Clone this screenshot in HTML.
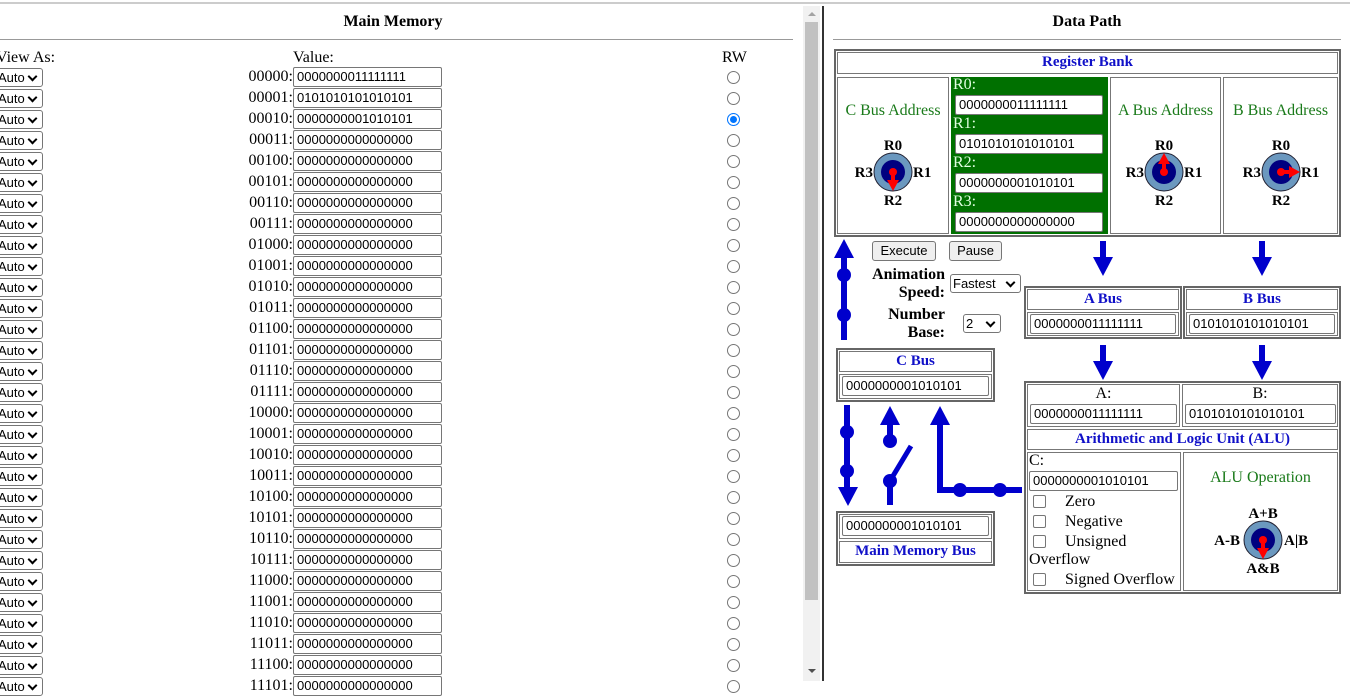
<!DOCTYPE html>
<html><head><meta charset="utf-8"><style>
*{box-sizing:border-box}
body{margin:0;width:1350px;height:681px;overflow:hidden;background:#fff;font-family:"Liberation Serif",serif;font-size:16px;position:relative}
.a{position:absolute}
.inp{position:absolute;height:20px;border:1px solid #767676;border-radius:2px;background:#fff;font-family:"Liberation Sans",sans-serif;font-size:13px;line-height:18px;padding-left:3px;color:#000}
.sel{position:absolute;height:19px;border:1px solid #767676;border-radius:3px;background:#fff;font-family:"Liberation Sans",sans-serif;font-size:13px;line-height:17px;padding-left:2px}
.sel:after{content:"";position:absolute;right:6px;top:4px;width:5px;height:5px;border-right:2px solid #000;border-bottom:2px solid #000;transform:rotate(45deg)}
.rad{position:absolute;width:13px;height:13px;border:1px solid #767676;border-radius:50%;background:#fff}
.box{position:absolute;border:2px solid #666;}
.cell{position:absolute;border:1px solid #777}
.hd{position:absolute;color:#1010c8;font-weight:bold;text-align:center;font-size:15px;line-height:19px}
.g{color:#1a7a1a}
.b{font-weight:bold}
.btn{position:absolute;height:20px;border:1px solid #767676;border-radius:3px;background:#efefef;font-family:"Liberation Sans",sans-serif;font-size:13px;text-align:center;line-height:18px}
.cb{position:absolute;width:13px;height:13px;border:1px solid #767676;border-radius:2px;background:#fff}
</style></head><body>
<div class="a" style="left:0;top:0;width:1350px;height:4px;border-bottom:2px solid #ccc;background:#fff"></div>
<div class="a b" style="left:0;top:13px;width:786px;text-align:center">Main Memory</div>
<div class="a" style="left:0;top:39px;width:793px;height:1px;background:#999"></div>
<div class="a" style="left:-4px;top:49px">View As:</div>
<div class="a" style="left:293px;top:49px">Value:</div>
<div class="a" style="left:722px;top:49px">RW</div>
<div id="rows"></div>
<div class="a" style="left:803px;top:6px;width:17px;height:675px;background:#f1f1f1"></div>
<div class="a" style="left:805px;top:22px;width:13px;height:578px;background:#c1c1c1"></div>
<div class="a" style="left:808px;top:12px;width:0;height:0;border-left:4px solid transparent;border-right:4px solid transparent;border-bottom:4px solid #a3a3a3"></div>
<div class="a" style="left:808px;top:669px;width:0;height:0;border-left:4px solid transparent;border-right:4px solid transparent;border-top:4px solid #505050"></div>
<div class="a" style="left:822px;top:6px;width:2px;height:675px;background:#333"></div>

<div class="a b" style="left:833px;top:13px;width:508px;text-align:center">Data Path</div>
<div class="a" style="left:833px;top:39px;width:508px;height:1px;background:#999"></div>

<div class="box" style="left:834px;top:49px;width:507px;height:188px"></div>
<div class="cell" style="left:837px;top:52px;width:501px;height:22px"></div>
<div class="hd" style="left:837px;top:53px;width:501px">Register Bank</div>
<div class="cell" style="left:837px;top:77px;width:112px;height:157px"></div>
<div class="a" style="left:951px;top:77px;width:157px;height:157px;background:#007000"></div>
<div class="cell" style="left:1110px;top:77px;width:111px;height:157px"></div>
<div class="cell" style="left:1223px;top:77px;width:115px;height:157px"></div>
<div class="a g" style="left:837px;top:102px;width:112px;text-align:center">C Bus Address</div>
<div class="a g" style="left:1110px;top:102px;width:111px;text-align:center">A Bus Address</div>
<div class="a g" style="left:1223px;top:102px;width:115px;text-align:center">B Bus Address</div>
<div class="a" style="left:953px;top:76px;color:#e0ffe0">R0:</div>
<div class="inp" style="left:955px;top:95px;width:148px">0000000011111111</div>
<div class="a" style="left:953px;top:115px;color:#e0ffe0">R1:</div>
<div class="inp" style="left:955px;top:134px;width:148px">0101010101010101</div>
<div class="a" style="left:953px;top:154px;color:#e0ffe0">R2:</div>
<div class="inp" style="left:955px;top:173px;width:148px">0000000001010101</div>
<div class="a" style="left:953px;top:193px;color:#e0ffe0">R3:</div>
<div class="inp" style="left:955px;top:212px;width:148px">0000000000000000</div>

<div class="btn" style="left:872px;top:241px;width:64px">Execute</div>
<div class="btn" style="left:949px;top:241px;width:53px">Pause</div>
<div class="a b" style="left:840px;top:266px;width:105px;text-align:right;line-height:18px">Animation<br>Speed:</div>
<div class="sel" style="left:950px;top:274px;width:71px">Fastest</div>
<div class="a b" style="left:840px;top:306px;width:105px;text-align:right;line-height:18px">Number<br>Base:</div>
<div class="sel" style="left:963px;top:314px;width:38px">2</div>

<div class="box" style="left:1024px;top:286px;width:158px;height:53px"></div>
<div class="cell" style="left:1027px;top:289px;width:152px;height:21px"></div>
<div class="hd" style="left:1027px;top:290px;width:152px">A Bus</div>
<div class="cell" style="left:1027px;top:312px;width:152px;height:24px"></div>
<div class="inp" style="left:1030px;top:314px;width:146px">0000000011111111</div>
<div class="box" style="left:1183px;top:286px;width:158px;height:53px"></div>
<div class="cell" style="left:1186px;top:289px;width:152px;height:21px"></div>
<div class="hd" style="left:1186px;top:290px;width:152px">B Bus</div>
<div class="cell" style="left:1186px;top:312px;width:152px;height:24px"></div>
<div class="inp" style="left:1189px;top:314px;width:146px">0101010101010101</div>

<div class="box" style="left:836px;top:348px;width:159px;height:54px"></div>
<div class="cell" style="left:839px;top:351px;width:153px;height:21px"></div>
<div class="hd" style="left:839px;top:352px;width:153px">C Bus</div>
<div class="cell" style="left:839px;top:374px;width:153px;height:25px"></div>
<div class="inp" style="left:842px;top:376px;width:147px">0000000001010101</div>

<div class="box" style="left:836px;top:511px;width:159px;height:55px"></div>
<div class="cell" style="left:839px;top:514px;width:153px;height:25px"></div>
<div class="inp" style="left:842px;top:516px;width:147px">0000000001010101</div>
<div class="cell" style="left:839px;top:541px;width:153px;height:22px"></div>
<div class="hd" style="left:839px;top:542px;width:153px">Main Memory Bus</div>

<div class="box" style="left:1024px;top:381px;width:317px;height:213px"></div>
<div class="cell" style="left:1027px;top:384px;width:153px;height:43px"></div>
<div class="cell" style="left:1182px;top:384px;width:156px;height:43px"></div>
<div class="a" style="left:1027px;top:385px;width:153px;text-align:center">A:</div>
<div class="a" style="left:1182px;top:385px;width:156px;text-align:center">B:</div>
<div class="inp" style="left:1030px;top:404px;width:147px">0000000011111111</div>
<div class="inp" style="left:1185px;top:404px;width:151px">0101010101010101</div>
<div class="cell" style="left:1027px;top:429px;width:311px;height:21px"></div>
<div class="hd" style="left:1027px;top:430px;width:311px">Arithmetic and Logic Unit (ALU)</div>
<div class="cell" style="left:1027px;top:452px;width:154px;height:139px"></div>
<div class="cell" style="left:1183px;top:452px;width:155px;height:139px"></div>
<div class="a" style="left:1029px;top:452px">C:</div>
<div class="inp" style="left:1029px;top:471px;width:149px">0000000001010101</div>
<div class="cb" style="left:1033px;top:495px"></div><div class="a" style="left:1065px;top:493px">Zero</div>
<div class="cb" style="left:1033px;top:515px"></div><div class="a" style="left:1065px;top:513px">Negative</div>
<div class="cb" style="left:1033px;top:535px"></div><div class="a" style="left:1065px;top:533px">Unsigned</div>
<div class="a" style="left:1029px;top:551px">Overflow</div>
<div class="cb" style="left:1033px;top:573px"></div><div class="a" style="left:1065px;top:571px">Signed Overflow</div>
<div class="a g" style="left:1183px;top:469px;width:155px;text-align:center">ALU Operation</div>

<svg class="a" style="left:0;top:0" width="1350" height="681" font-family="Liberation Serif,serif" font-weight="bold" font-size="15">
<g fill="#0000cc" stroke="#0000cc">
<rect x="1100" y="241" width="6" height="18" stroke="none"/><polygon points="1093,257 1113,257 1103,276" stroke="none"/>
<rect x="1259" y="241" width="6" height="18" stroke="none"/><polygon points="1252,257 1272,257 1262,276" stroke="none"/>
<rect x="1100" y="345" width="6" height="18" stroke="none"/><polygon points="1093,361 1113,361 1103,380" stroke="none"/>
<rect x="1259" y="345" width="6" height="18" stroke="none"/><polygon points="1252,361 1272,361 1262,380" stroke="none"/>
<polygon points="844,239 834,258 854,258" stroke="none"/><rect x="841" y="256" width="6" height="84" stroke="none"/>
<circle cx="844" cy="275" r="7" stroke="none"/><circle cx="844" cy="315" r="7" stroke="none"/>
<rect x="844" y="405" width="6" height="85" stroke="none"/><polygon points="838,487 858,487 848,506" stroke="none"/>
<circle cx="847" cy="432" r="7" stroke="none"/><circle cx="847" cy="471" r="7" stroke="none"/>
<polygon points="890,406 880,425 900,425" stroke="none"/><rect x="887" y="423" width="6" height="18" stroke="none"/>
<circle cx="890" cy="441" r="7" stroke="none"/>
<line x1="890" y1="481" x2="911" y2="446" stroke-width="5"/>
<circle cx="890" cy="481" r="7" stroke="none"/><rect x="887" y="481" width="6" height="24" stroke="none"/>
<polygon points="940,406 930,425 950,425" stroke="none"/><rect x="937" y="423" width="6" height="70" stroke="none"/>
<rect x="937" y="487" width="85" height="6" stroke="none"/>
<circle cx="960" cy="490" r="7" stroke="none"/><circle cx="1000" cy="490" r="7" stroke="none"/>
</g>
<g transform="translate(893,172)">
<circle r="19" fill="#6b98bf" stroke="#223"/><circle r="12" fill="#000080"/><circle r="4" fill="#f00"/>
<rect x="-2" y="0" width="4" height="10" fill="#f00"/><polygon points="-6,8 6,8 0,19" fill="#f00"/>
<text x="0" y="-22" text-anchor="middle">R0</text><text x="0" y="33" text-anchor="middle">R2</text>
<text x="-20" y="5" text-anchor="end">R3</text><text x="20" y="5">R1</text></g>
<g transform="translate(1164,172)">
<circle r="19" fill="#6b98bf" stroke="#223"/><circle r="12" fill="#000080"/><circle r="4" fill="#f00"/>
<rect x="-2" y="-10" width="4" height="10" fill="#f00"/><polygon points="-6,-8 6,-8 0,-19" fill="#f00"/>
<text x="0" y="-22" text-anchor="middle">R0</text><text x="0" y="33" text-anchor="middle">R2</text>
<text x="-20" y="5" text-anchor="end">R3</text><text x="20" y="5">R1</text></g>
<g transform="translate(1281,172)">
<circle r="19" fill="#6b98bf" stroke="#223"/><circle r="12" fill="#000080"/><circle r="4" fill="#f00"/>
<rect x="0" y="-2" width="10" height="4" fill="#f00"/><polygon points="8,-6 8,6 19,0" fill="#f00"/>
<text x="0" y="-22" text-anchor="middle">R0</text><text x="0" y="33" text-anchor="middle">R2</text>
<text x="-20" y="5" text-anchor="end">R3</text><text x="20" y="5">R1</text></g>
<g transform="translate(1263,540)">
<circle r="19" fill="#6b98bf" stroke="#223"/><circle r="12" fill="#000080"/><circle r="4" fill="#f00"/>
<rect x="-2" y="0" width="4" height="10" fill="#f00"/><polygon points="-6,8 6,8 0,19" fill="#f00"/>
<text x="0" y="-22" text-anchor="middle">A+B</text><text x="0" y="33" text-anchor="middle">A&amp;B</text>
<text x="-23" y="5" text-anchor="end">A-B</text><text x="21" y="5">A|B</text></g>
</svg>
<script>
var v=["0000000011111111","0101010101010101","0000000001010101"];var h="";
for(var i=0;i<30;i++){var y=67+21*i;var a=i.toString(2);while(a.length<5)a="0"+a;
var val=v[i]||"0000000000000000";
h+='<div class="sel" style="left:-5px;top:'+(y+1)+'px;width:48px">Auto</div>';
h+='<div class="a" style="left:200px;width:93px;text-align:right;line-height:20px;top:'+y+'px">'+a+':</div>';
h+='<div class="inp" style="left:293px;top:'+y+'px;width:149px">'+val+'</div>';
h+='<div class="rad" style="left:727px;top:'+(y+4)+'px;'+(i==2?'border-color:#0075ff;box-shadow:inset 0 0 0 2px #fff,inset 0 0 0 6px #0075ff':'')+'"></div>';}
document.getElementById("rows").innerHTML=h;
</script>
</body></html>
